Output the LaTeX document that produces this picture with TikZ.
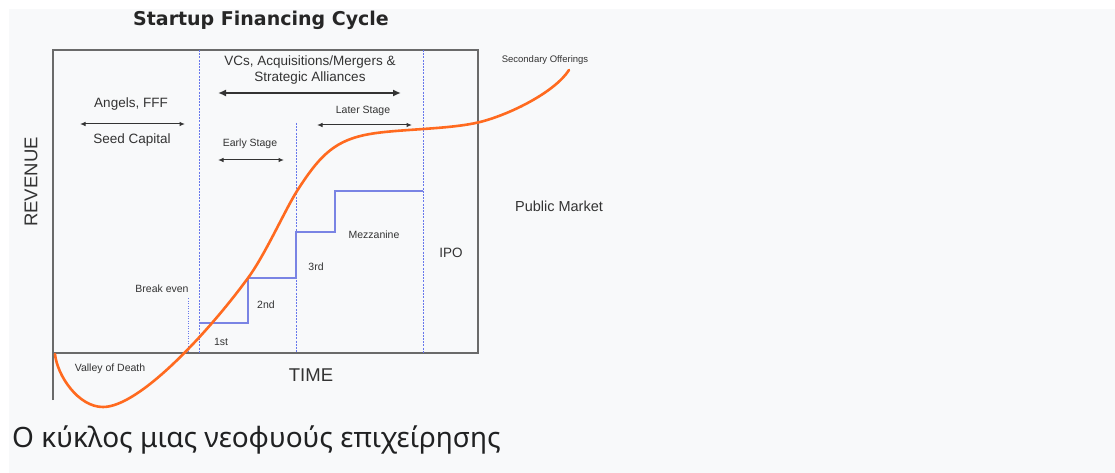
\documentclass[tikz,border=0pt]{standalone}
\usepackage{fontspec}
\setmainfont{Liberation Sans}
\newfontfamily\titlefont{DejaVu Sans}
\newfontfamily\capfont{Noto Sans}
\usetikzlibrary{arrows.meta}
\definecolor{bgc}{HTML}{F8F9FA}
\definecolor{axisc}{HTML}{6A6A6A}
\definecolor{dashc}{HTML}{6878EC}
\definecolor{stairc}{HTML}{7A84E4}
\definecolor{curvec}{HTML}{FF6A1F}
\definecolor{txtc}{HTML}{333333}
\definecolor{capc}{HTML}{202122}
\begin{document}
\begin{tikzpicture}[x=1pt,y=-1pt,
  lbl/.style={inner sep=0pt, text=txtc},
  small/.style={lbl, font=\fontsize{10.5}{12}\selectfont},
  mid/.style={lbl, font=\fontsize{13.5}{16}\selectfont, align=center},
  axislbl/.style={lbl, font=\fontsize{18.5}{20}\selectfont},
  frame/.style={draw=axisc, line width=1.8pt},
  phase/.style={draw=dashc, line width=1pt, dash pattern=on 2pt off 1.2pt},
  stair/.style={draw=stairc, line width=1.4pt},
  span/.style={draw=txtc, line width=1pt, {Latex[length=5.5pt,width=4.5pt]}-{Latex[length=5.5pt,width=4.5pt]}},
  bigspan/.style={draw=txtc, line width=2pt, {Latex[length=8pt,width=7pt]}-{Latex[length=8pt,width=7pt]}},
  growth/.style={draw=curvec, line width=2.6pt, line cap=round}
]
\useasboundingbox (0,0) rectangle (1115,473);
\fill[white] (0,0) rectangle (1115,473);
\fill[bgc] (9,9) rectangle (1115,473);

% title
\node[lbl, font=\titlefont\bfseries\fontsize{19}{22}\selectfont, text=black!85] (title) at (261,20) {Startup Financing Cycle};

% frame and axes
\coordinate (tl) at (53,50);
\coordinate (tr) at (478,50);
\coordinate (br) at (478,353);
\coordinate (bl) at (53,353);
\coordinate (axbot) at (53,400);
\draw[frame] (axbot) -- (tl) -- (tr) -- (br) -- (bl);

% phase dividers
\coordinate (d1t) at (199,50);  \coordinate (d1b) at (199,353);
\coordinate (d2t) at (296,123); \coordinate (d2b) at (296,353);
\coordinate (d3t) at (423,50);  \coordinate (d3b) at (423,353);
\coordinate (bet) at (188,298); \coordinate (beb) at (188,353);
\draw[phase] (d1t) -- (d1b);
\draw[phase] (d2t) -- (d2b);
\draw[phase] (d3t) -- (d3b);
\draw[draw=dashc, line width=0.8pt, dash pattern=on 1pt off 1.5pt] (bet) -- (beb);

% funding staircase
\draw[stair] (199,323) -- (248,323) -- (248,278) -- (296,278) -- (296,232) -- (335,232) -- (335,191) -- (423,191);

% growth curve
\draw[growth] (55,354) .. controls (57,375) and (78,407) .. (103,407)
  .. controls (140,407) and (210,330) .. (248,278)
  .. controls (265,255) and (285,210) .. (297,191)
  .. controls (320,155) and (335,140) .. (370,134)
  .. controls (398,129) and (450,129.5) .. (480,122)
  .. controls (510,114.5) and (555,92) .. (569,70);

% labels
\node[mid] (vc) at (310,70) {VCs, Acquisitions/Mergers \&\\Strategic Alliances};
\coordinate (vcL) at (218,93); \coordinate (vcR) at (401,93);
\draw[bigspan] (vcL) -- (vcR);

\node[mid] (angels) at (131,104) {Angels, FFF};
\coordinate (seedL) at (80,124); \coordinate (seedR) at (185,124);
\draw[span] (seedL) -- (seedR);
\node[mid] (seed) at (132,140) {Seed Capital};

\node[small] (later) at (363,111) {Later Stage};
\coordinate (latL) at (317,125); \coordinate (latR) at (412,125);
\draw[span] (latL) -- (latR);

\node[small] (early) at (250,144) {Early Stage};
\coordinate (earL) at (218,160); \coordinate (earR) at (284,160);
\draw[span] (earL) -- (earR);

\node[lbl, font=\fontsize{9.5}{11}\selectfont] (second) at (545,60) {Secondary Offerings};
\node[lbl, font=\fontsize{14.5}{16}\selectfont] (public) at (559,206) {Public Market};
\node[lbl, font=\fontsize{13.5}{16}\selectfont] (ipo) at (451,253) {IPO};
\node[small] (mezz) at (374,235) {Mezzanine};
\node[small] (third) at (316,267) {3rd};
\node[small] (secnd) at (266,305) {2nd};
\node[small] (first) at (221,342) {1st};
\node[small] (breakeven) at (162,289) {Break even};
\node[small] (valley) at (110,369) {Valley of Death};

\node[axislbl] (time) at (311,375) {TIME};
\node[axislbl, rotate=90] (revenue) at (31,182) {REVENUE};

% caption
\node[lbl, anchor=west, text=capc, font=\capfont\fontsize{28}{32}\selectfont] (caption) at (12,440) {Ο κύκλος μιας νεοφυούς επιχείρησης};
\end{tikzpicture}
\end{document}
